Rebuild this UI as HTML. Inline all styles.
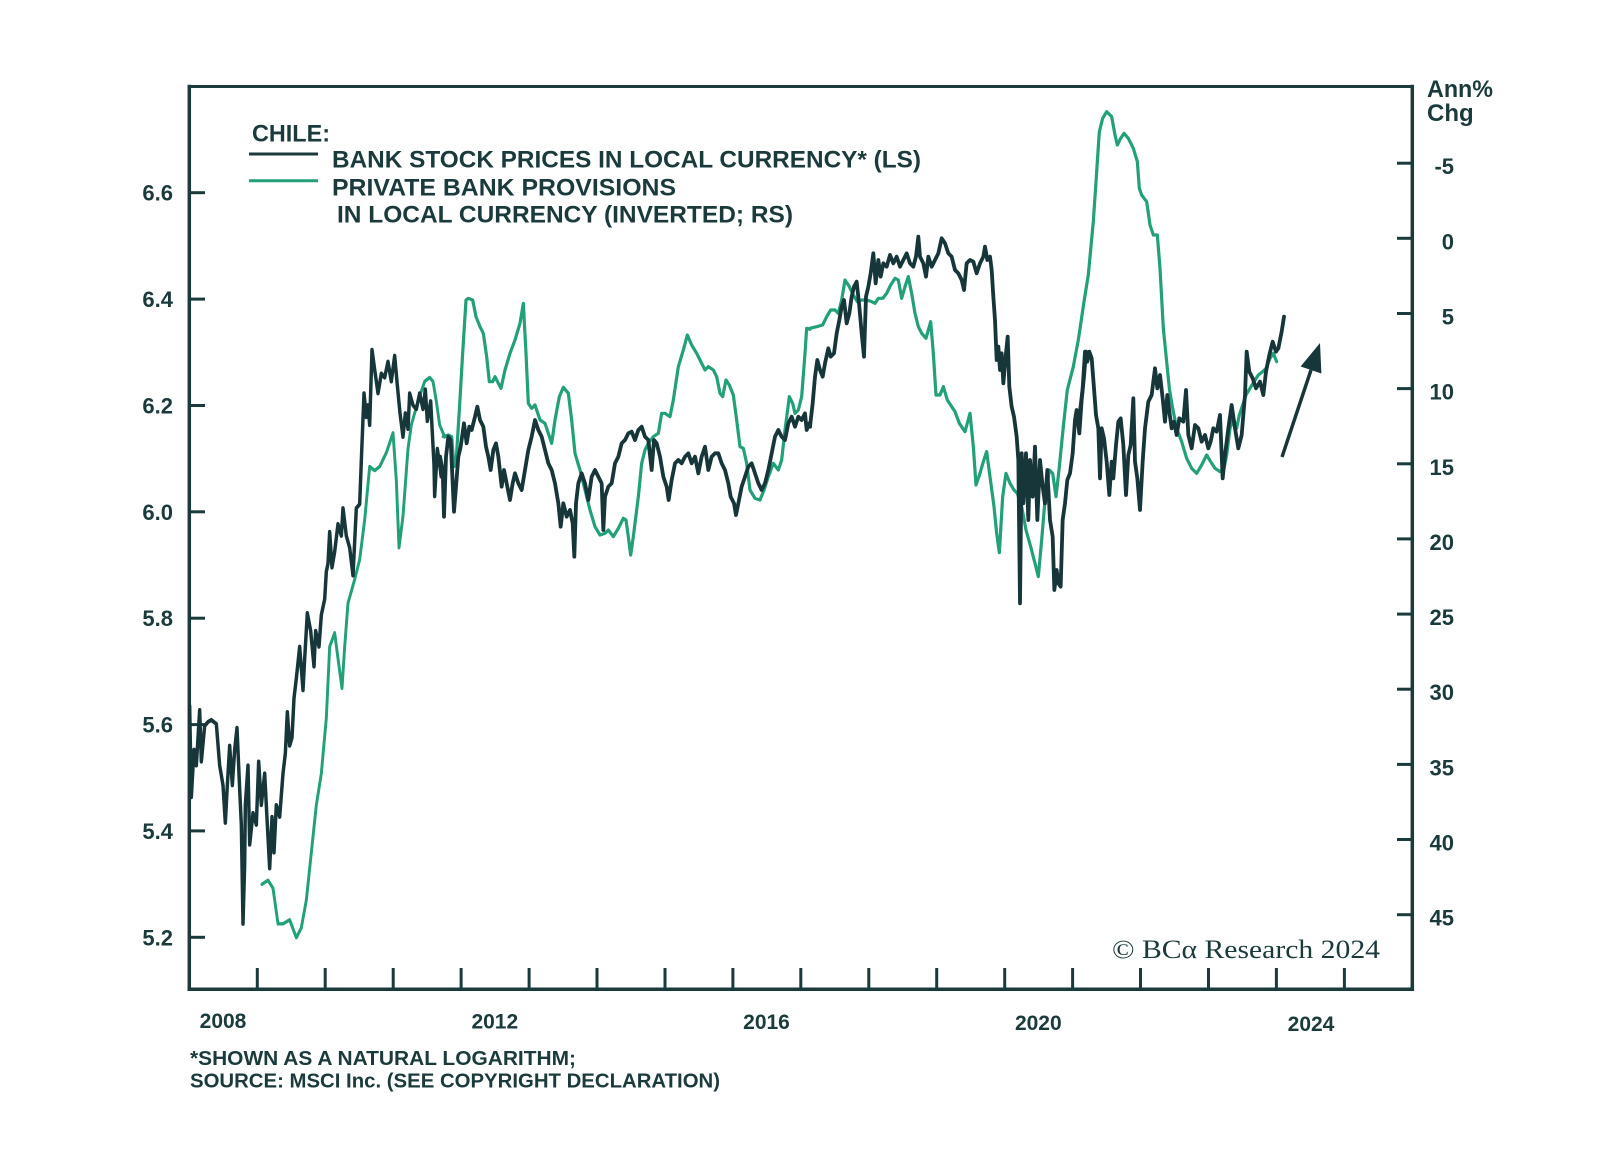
<!DOCTYPE html>
<html>
<head>
<meta charset="utf-8">
<style>
html,body{margin:0;padding:0;background:#ffffff;}
svg{display:block;}
text{font-family:"Liberation Sans",sans-serif;font-weight:bold;fill:#1b3a3c;}
.ser{font-family:"Liberation Serif",serif;font-weight:normal;}
</style>
</head>
<body>
<svg width="1600" height="1161" viewBox="0 0 1600 1161" xmlns="http://www.w3.org/2000/svg">
<rect width="1600" height="1161" fill="#ffffff"/>

<!-- frame -->
<g stroke="#1b3a3c" fill="none" stroke-linecap="square">
  <line x1="189.3" y1="86.5" x2="1412.3" y2="86.5" stroke-width="3"/>
  <line x1="189.3" y1="86.5" x2="189.3" y2="989.3" stroke-width="3.5"/>
  <line x1="1412.3" y1="86.5" x2="1412.3" y2="989.3" stroke-width="3.5"/>
  <line x1="189.3" y1="989.3" x2="1412.3" y2="989.3" stroke-width="3.5"/>
</g>

<!-- left ticks -->
<g stroke="#1b3a3c" stroke-width="3">
  <line x1="189" y1="937.3" x2="205" y2="937.3"/>
  <line x1="189" y1="830.9" x2="205" y2="830.9"/>
  <line x1="189" y1="724.6" x2="205" y2="724.6"/>
  <line x1="189" y1="618.2" x2="205" y2="618.2"/>
  <line x1="189" y1="511.8" x2="205" y2="511.8"/>
  <line x1="189" y1="405.5" x2="205" y2="405.5"/>
  <line x1="189" y1="299.1" x2="205" y2="299.1"/>
  <line x1="189" y1="192.7" x2="205" y2="192.7"/>
</g>
<!-- right ticks -->
<g stroke="#1b3a3c" stroke-width="3">
  <line x1="1397" y1="163.2" x2="1412" y2="163.2"/>
  <line x1="1397" y1="238.3" x2="1412" y2="238.3"/>
  <line x1="1397" y1="313.5" x2="1412" y2="313.5"/>
  <line x1="1397" y1="388.6" x2="1412" y2="388.6"/>
  <line x1="1397" y1="463.8" x2="1412" y2="463.8"/>
  <line x1="1397" y1="538.9" x2="1412" y2="538.9"/>
  <line x1="1397" y1="614.1" x2="1412" y2="614.1"/>
  <line x1="1397" y1="689.2" x2="1412" y2="689.2"/>
  <line x1="1397" y1="764.4" x2="1412" y2="764.4"/>
  <line x1="1397" y1="839.5" x2="1412" y2="839.5"/>
  <line x1="1397" y1="914.7" x2="1412" y2="914.7"/>
</g>
<!-- bottom ticks -->
<g stroke="#1b3a3c" stroke-width="3">
  <line x1="257.3" y1="968" x2="257.3" y2="989"/>
  <line x1="325.2" y1="968" x2="325.2" y2="989"/>
  <line x1="393.2" y1="968" x2="393.2" y2="989"/>
  <line x1="461.1" y1="968" x2="461.1" y2="989"/>
  <line x1="529.1" y1="968" x2="529.1" y2="989"/>
  <line x1="597.0" y1="968" x2="597.0" y2="989"/>
  <line x1="665.0" y1="968" x2="665.0" y2="989"/>
  <line x1="732.9" y1="968" x2="732.9" y2="989"/>
  <line x1="800.8" y1="968" x2="800.8" y2="989"/>
  <line x1="868.8" y1="968" x2="868.8" y2="989"/>
  <line x1="936.7" y1="968" x2="936.7" y2="989"/>
  <line x1="1004.7" y1="968" x2="1004.7" y2="989"/>
  <line x1="1072.6" y1="968" x2="1072.6" y2="989"/>
  <line x1="1140.5" y1="968" x2="1140.5" y2="989"/>
  <line x1="1208.5" y1="968" x2="1208.5" y2="989"/>
  <line x1="1276.4" y1="968" x2="1276.4" y2="989"/>
  <line x1="1344.4" y1="968" x2="1344.4" y2="989"/>
</g>

<!-- left labels -->
<g font-size="22" text-anchor="end">
  <text x="173" y="945.3">5.2</text>
  <text x="173" y="838.9">5.4</text>
  <text x="173" y="732.6">5.6</text>
  <text x="173" y="626.2">5.8</text>
  <text x="173" y="519.8">6.0</text>
  <text x="173" y="413.5">6.2</text>
  <text x="173" y="307.1">6.4</text>
  <text x="173" y="200.7">6.6</text>
</g>
<!-- right labels -->
<g font-size="22" text-anchor="end">
  <text x="1454" y="174.2">-5</text>
  <text x="1454" y="249.3">0</text>
  <text x="1454" y="324.5">5</text>
  <text x="1454" y="399.6">10</text>
  <text x="1454" y="474.8">15</text>
  <text x="1454" y="549.9">20</text>
  <text x="1454" y="625.1">25</text>
  <text x="1454" y="700.2">30</text>
  <text x="1454" y="775.4">35</text>
  <text x="1454" y="850.5">40</text>
  <text x="1454" y="925.7">45</text>
</g>
<text x="1427" y="97" font-size="24" textLength="66" lengthAdjust="spacingAndGlyphs">Ann%</text>
<text x="1427" y="121" font-size="24">Chg</text>

<!-- year labels -->
<g font-size="21" text-anchor="middle">
  <text x="223" y="1028">2008</text>
  <text x="494.8" y="1028.5">2012</text>
  <text x="766.5" y="1029">2016</text>
  <text x="1038.3" y="1030">2020</text>
  <text x="1311" y="1031">2024</text>
</g>

<!-- legend -->
<text x="252" y="141.7" font-size="24" textLength="78" lengthAdjust="spacingAndGlyphs">CHILE:</text>
<line x1="249" y1="154" x2="318" y2="154" stroke="#1b3a3c" stroke-width="3"/>
<line x1="249" y1="180.7" x2="318" y2="180.7" stroke="#22a07a" stroke-width="3"/>
<text x="332" y="167.7" font-size="24" textLength="589" lengthAdjust="spacingAndGlyphs">BANK STOCK PRICES IN LOCAL CURRENCY* (LS)</text>
<text x="332" y="195.4" font-size="24" textLength="344" lengthAdjust="spacingAndGlyphs">PRIVATE BANK PROVISIONS</text>
<text x="337" y="222.7" font-size="24" textLength="456" lengthAdjust="spacingAndGlyphs">IN LOCAL CURRENCY (INVERTED; RS)</text>

<!-- footnote -->
<text x="190" y="1065" font-size="20.5" textLength="386" lengthAdjust="spacingAndGlyphs">*SHOWN AS A NATURAL LOGARITHM;</text>
<text x="190" y="1087.5" font-size="20.5" textLength="530" lengthAdjust="spacingAndGlyphs">SOURCE: MSCI Inc. (SEE COPYRIGHT DECLARATION)</text>

<!-- copyright -->
<text class="ser" x="1112" y="958" font-size="26" textLength="268" lengthAdjust="spacingAndGlyphs">© BCα Research 2024</text>

<!-- GREEN series -->
<g fill="none" stroke="#22a07a" stroke-linejoin="round" stroke-linecap="round">
  <polyline stroke-width="8.8" transform="translate(188,330) scale(0.33333,0.39588)" points="222,1400 240,1390 255,1410 270,1500 285,1500 305,1490 325,1535 340,1510 355,1440 370,1320 385,1200 400,1120 415,980 425,800 440,765 450,830 462,905 470,800 480,690 500,630 515,580 530,480 545,345 560,355 575,345 595,310 615,260 625,380 633,550 645,470 660,300 670,240 690,180 710,130 725,120 735,130 745,180 755,240 770,270"/>
  <polyline stroke-width="9.6" transform="translate(440,270) scale(0.33333)" points="10,500 25,495 35,500 42,590 48,580 58,420 68,250 78,90 85,85 98,90 108,140 120,170 130,190 140,260 148,335 158,335 165,320 175,340 183,355 195,300 210,250 225,210 240,160 250,100 258,250 265,400 275,415 285,405 300,450 315,460 325,490 335,520 345,450 358,380 370,352 385,370 395,450 405,550 420,600 435,660 450,720 465,770 480,795 495,790 505,780 520,800 535,775 550,745 558,750 565,800 572,855 580,800 595,680 605,580 615,540 625,520 640,500 655,490 665,430 675,430 690,440 700,390 715,290 730,240 742,195 755,225 770,250 780,270 795,300 805,290 820,300 830,320 840,370 848,380 858,330 868,345 880,375 890,450 900,530 910,535 920,580 930,660 945,685 960,690 972,660 985,620 1000,580 1015,600 1025,570 1035,480 1048,380 1058,400 1065,430 1075,420 1085,380 1095,250 1100,175 1110,178"/>
  <polyline stroke-width="9.6" transform="translate(810,220) scale(0.33333)" points="0,325 20,320 38,315 50,290 62,270 75,270 85,280 95,240 105,180 118,200 130,225 142,245 155,240 170,240 185,245 195,250 205,235 218,235 230,220 242,195 255,175 265,180 275,235 285,200 295,170 305,220 315,280 325,320 335,340 348,355 362,305 370,400 378,525 390,525 400,500 412,540 425,560 435,575 448,610 465,635 480,580 490,680 498,795 510,760 520,725 530,695 540,770 552,860 560,940 568,998 578,830 588,760 600,790 612,810 622,820 635,860 648,930 662,980 675,1030 685,1070 695,960 705,840 718,750 728,760 738,830 748,740 760,620"/>
  <polyline stroke-width="3.2" points="1063.3,426.7 1067.3,390 1073.3,366.7 1078.3,340 1081,322 1084,301.7 1088.3,275 1093.3,221.7 1096.7,171.7"/>
  <polyline stroke-width="9.6" transform="translate(1080,95) scale(0.33333)" points="50,230 58,110 68,70 80,50 95,65 105,120 112,150 122,130 132,115 145,130 160,160 172,200 178,280 185,300 200,320 210,390 220,420 232,420 240,520 250,700 258,780 268,880 278,940 290,1000 305,1040 320,1090 335,1120 350,1135 365,1110 380,1080 392,1100 405,1120 420,1130 432,1120 440,1080 450,1000 460,970 470,1000 478,960 488,930 498,900 510,880 522,860 535,840 548,830 558,820 570,790 580,775 590,800"/>
</g>

<!-- BLACK series -->
<g fill="none" stroke="#17363a" stroke-linejoin="round" stroke-linecap="round">
  <polyline stroke-width="10.4" transform="translate(188,330) scale(0.33333,0.39588)" points="5,950 10,1180 18,1060 25,1100 35,960 40,1090 50,1000 60,990 70,985 85,995 95,1100 105,1150 112,1245 118,1150 125,1050 133,1150 140,1060 147,1005 155,1160 160,1250 165,1500 170,1350 172,1200 180,1100 185,1300 195,1220 205,1250 212,1090 220,1200 230,1120 238,1250 245,1360 252,1230 258,1320 265,1200 275,1230 285,1120 292,1070 298,965 305,1050 312,1030 318,930 325,880 335,800 345,910 350,830 358,715 368,760 378,850 383,760 393,800 400,720 410,680 415,610 420,590 425,510 432,600 440,560 450,490 460,520 465,450 475,520 485,550 495,620 505,450 515,440 520,330 528,160 535,220 540,190 545,240 552,50 560,100 570,160 580,110 590,120 600,80 610,130 620,65 628,140 636,210 645,270 652,210 660,250 665,160 675,190 685,200 695,160 705,200 712,150 718,230 728,180 738,340 740,420 748,300 760,370"/>
  <polyline stroke-width="3.8" points="441.3,476.5 440,456.7"/>
  <polyline stroke-width="11.4" transform="translate(440,270) scale(0.33333)" points="0,560 8,600 12,740 18,560 25,500 32,510 42,725 48,650 55,560 62,530 72,460 80,520 88,470 95,480 105,440 112,410 120,450 130,470 138,530 145,560 152,600 160,540 168,520 175,560 185,650 192,600 200,640 210,690 218,640 225,610 235,640 245,660 255,600 265,540 275,500 285,450 295,480 305,500 315,540 325,580 335,600 345,640 355,700 362,770 370,700 380,740 390,720 398,760 403,860 408,700 415,640 425,610 435,640 445,690 455,620 465,600 475,620 485,640 490,780 495,680 505,650 515,640 525,580 535,560 545,520 555,510 565,490 575,485 585,510 595,480 605,470 615,500 625,510 635,600 642,510 650,520 660,560 670,620 680,650 686,690 695,630 705,580 715,570 725,580 735,560 745,550 755,580 765,560 775,610 785,560 795,530 805,600 815,560 825,550 835,550 845,580 855,600 865,640 872,680 882,700 888,735 895,700 905,650 915,620 925,590 935,580 945,610 955,640 965,660 975,640 985,600 995,550 1005,500 1015,480 1025,500 1035,510 1045,460 1055,440 1065,470 1075,440 1085,450 1095,430 1100,480 1108,460"/>
  <polyline stroke-width="3.8" points="809.3,423.3 810,426.7"/>
  <polyline stroke-width="11.4" transform="translate(810,220) scale(0.33333)" points="0,620 8,550 15,470 22,420 30,450 38,470 45,430 55,385 62,410 72,400 80,340 88,300 95,260 102,240 110,310 118,280 125,230 132,200 140,185 148,260 155,340 162,410 168,230 175,200 182,160 190,100 197,190 205,120 212,170 220,130 230,140 240,105 250,130 260,110 270,140 280,120 290,100 300,130 310,140 318,110 325,50 330,110 340,130 348,170 355,110 365,140 375,120 385,100 395,55 405,70 415,100 425,110 435,150 445,160 455,180 462,210 470,130 480,120 490,125 500,160 510,130 520,110 525,80 532,120 540,110 545,150 550,230 555,300 560,420 565,380 570,450 575,400 580,490 588,400 593,350 598,500 605,560 612,590 620,650 625,720 630,1150 635,700 640,850 648,700 655,900 660,720 668,830 675,680 682,900 690,720 698,800 705,850 712,750 720,900 728,950 733,1110 740,1050 745,1090 752,1100 758,900 765,850 772,780 780,760 788,700 795,600 800,570 808,640 815,540 822,470 828,395"/>
  <polyline stroke-width="11.4" transform="translate(1080,95) scale(0.33333)" points="0,950 8,880 15,770 22,800 28,770 35,790 42,880 48,960 55,1000 60,1150 65,1000 72,1030 80,1100 88,1200 95,1100 100,1150 108,1050 115,980 122,970 130,1050 138,1200 145,1080 152,1050 160,910 165,1100 172,1150 180,1245 188,1100 195,1000 205,920 215,900 225,820 232,880 240,840 248,910 255,980 262,900 268,950 275,1000 282,980 290,1020 298,970 310,980 318,885 325,1020 335,1060 345,990 355,1000 365,1040 375,1020 385,1060 392,1040 400,1000 410,1010 420,960 428,1150 435,1080 445,1000 455,930 465,1000 475,1060 485,1020 495,900 500,770 508,830 518,850 528,880 540,860 550,900 558,830 568,780 578,740 588,770 595,760 605,710 612,665"/>
</g>

<!-- arrow -->
<line x1="1282" y1="457" x2="1311" y2="370" stroke="#17363a" stroke-width="3.5"/>
<polygon points="1320,343 1300.6,366.5 1321.4,373.5" fill="#17363a"/>
</svg>
</body>
</html>
